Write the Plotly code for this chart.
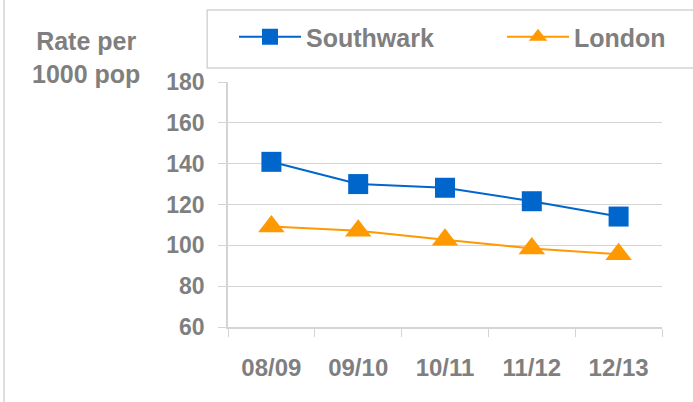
import plotly.graph_objects as go

years = ["08/09", "09/10", "10/11", "11/12", "12/13"]
southwark = [140.9, 130.0, 128.2, 121.6, 114.1]
london = [109.2, 107.1, 102.7, 98.5, 95.6]
y_ticks = [60, 80, 100, 120, 140, 160, 180]

GRAY = "#7f7f7f"
GRID = "#d4d4d4"
FONT = "Liberation Sans"

fig = go.Figure()
fig.add_trace(go.Scatter(
    x=years, y=southwark, name="Southwark", mode="lines+markers",
    line=dict(color="#0066cc", width=2),
    marker=dict(symbol="square", size=20, color="#0066cc"),
    legend="legend",
))
fig.add_trace(go.Scatter(
    x=years, y=london, name="London", mode="lines+markers",
    line=dict(color="#ff9900", width=2),
    marker=dict(symbol="triangle-up", size=23, color="#ff9900"),
    legend="legend2",
))

# outer chart border (left edge) and legend box
fig.add_shape(type="line", xref="paper", yref="paper",
              x0=-0.516, x1=-0.516, y0=-0.5, y1=1.5,
              line=dict(color=GRID, width=1.5))
fig.add_shape(type="rect", xref="paper", yref="paper",
              x0=-0.048, x1=1.2, y0=1.057, y1=1.294,
              line=dict(color=GRID, width=1.5), fillcolor="white", layer="below")

fig.add_annotation(text="<b>Rate per<br>1000 pop</b>", xref="paper", yref="paper",
                   x=-0.328, y=1.098, xanchor="center", yanchor="middle",
                   showarrow=False, align="center",
                   font=dict(family=FONT, size=25, color=GRAY))

leg_common = dict(orientation="h", yanchor="middle", xanchor="left",
                  xref="container", yref="container",
                  font=dict(family=FONT, size=25, color=GRAY, weight="bold"),
                  bgcolor="rgba(0,0,0,0)", borderwidth=0, itemwidth=62)

fig.update_layout(
    width=693, height=402,
    margin=dict(l=228, r=31, t=82, b=75),
    paper_bgcolor="white", plot_bgcolor="white",
    font=dict(family=FONT, color=GRAY, size=20),
    showlegend=True,
    legend=dict(x=234 / 693, y=1 - 37 / 402, **leg_common),
    legend2=dict(x=502 / 693, y=1 - 37 / 402, **leg_common),
    xaxis=dict(
        type="category", tickson="boundaries", ticks="outside", ticklen=8,
        tickcolor=GRID, showline=True, linecolor=GRID, linewidth=1.5,
        showgrid=False, automargin=False,
        tickfont=dict(family=FONT, size=24, color=GRAY, weight="bold"),
        ticklabelstandoff=18, range=[-0.5, 4.5],
    ),
    yaxis=dict(
        range=[60, 180], tickvals=y_ticks, ticks="outside", ticklen=8,
        tickcolor=GRID, showline=True, linecolor=GRID, linewidth=1.5,
        showgrid=True, gridcolor=GRID, gridwidth=1.2, zeroline=False,
        automargin=False,
        tickfont=dict(family=FONT, size=23, color=GRAY, weight="bold"),
        ticklabelstandoff=9,
    ),
)

fig.write_html("out.html", config={"displayModeBar": False},
               post_script="document.body.style.margin='0';")
